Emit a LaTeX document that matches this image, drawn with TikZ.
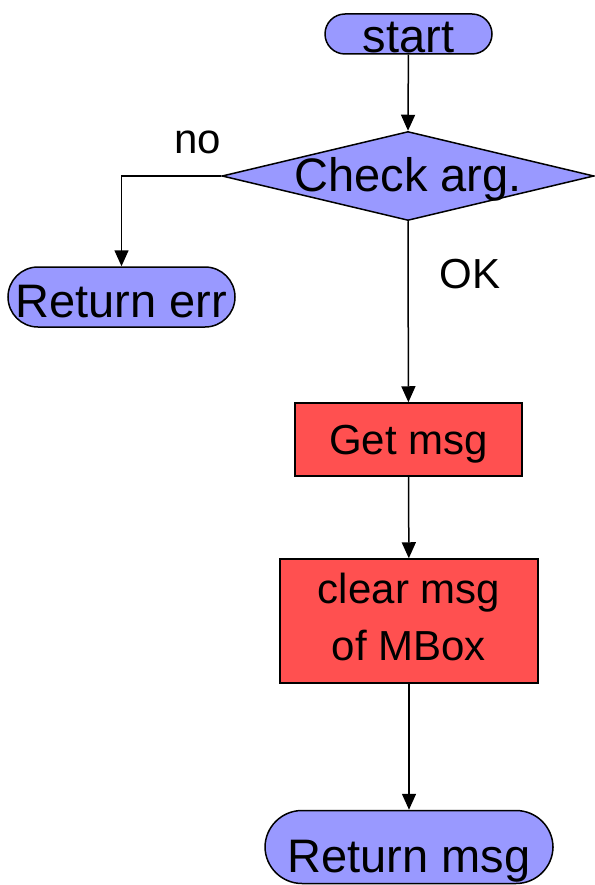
\documentclass[tikz,border=0pt]{standalone}
\usepackage{fontspec}
\setmainfont{Liberation Sans}
\usepackage{tikz}
\usetikzlibrary{arrows.meta,shapes.geometric}
\definecolor{akisMavi}{HTML}{9999FF}
\definecolor{kutuKirmizi}{HTML}{FF5050}
\begin{document}
\begin{tikzpicture}[x=1pt,y=-1pt,line width=1.5pt,
  buyuk/.style={font=\fontsize{47}{52}\selectfont},
  kucuk/.style={font=\fontsize{42}{57}\selectfont},
  taban/.style={text height=#1,text depth=0pt},
  ucNokta/.style={draw,fill=akisMavi,inner sep=0pt,rounded corners=#1,buyuk},
  islem/.style={draw,fill=kutuKirmizi,inner sep=0pt,align=center,kucuk},
  karar/.style={draw,fill=akisMavi,diamond,inner sep=0pt},
  ok/.style={-{Triangle[length=16pt,width=14pt]}}]
\useasboundingbox (0,0) rectangle (594,885);
\node[ucNokta=20pt,minimum width=167pt,minimum height=40pt,taban=38pt] (bas) at (408.5,34) {start};
\node[karar,minimum width=372pt,minimum height=89pt] (kontrol) at (408,176) {};
\node[buyuk,taban=32pt,inner sep=0pt] (kontrolYazi) at (kontrol) {Check arg.};
\node[ucNokta=30pt,minimum width=227pt,minimum height=60pt,taban=40pt] (hata) at (121.5,297) {Return err};
\node[islem,minimum width=227pt,minimum height=73pt,taban=29pt] (mesajAl) at (408.5,439.5) {Get msg};
\node[islem,minimum width=258pt,minimum height=124pt,taban=78pt] (temizle) at (409,621) {clear msg\\of MBox};
\node[ucNokta=37pt,minimum width=288pt,minimum height=73pt,taban=50pt] (donus) at (409,847) {Return msg};
\node[kucuk,taban=22pt,inner sep=0pt] (hayir) at (197.5,143) {no};
\node[kucuk,taban=30pt,inner sep=0pt] (tamam) at (470,273) {OK};
\draw[ok] (bas) -- (kontrol.north);
\draw[ok] (kontrol.west) -| (hata.north);
\draw[ok] (kontrol.south) -- (mesajAl);
\draw[ok] (mesajAl) -- (temizle);
\draw[ok] (temizle) -- (donus);
\end{tikzpicture}
\end{document}
